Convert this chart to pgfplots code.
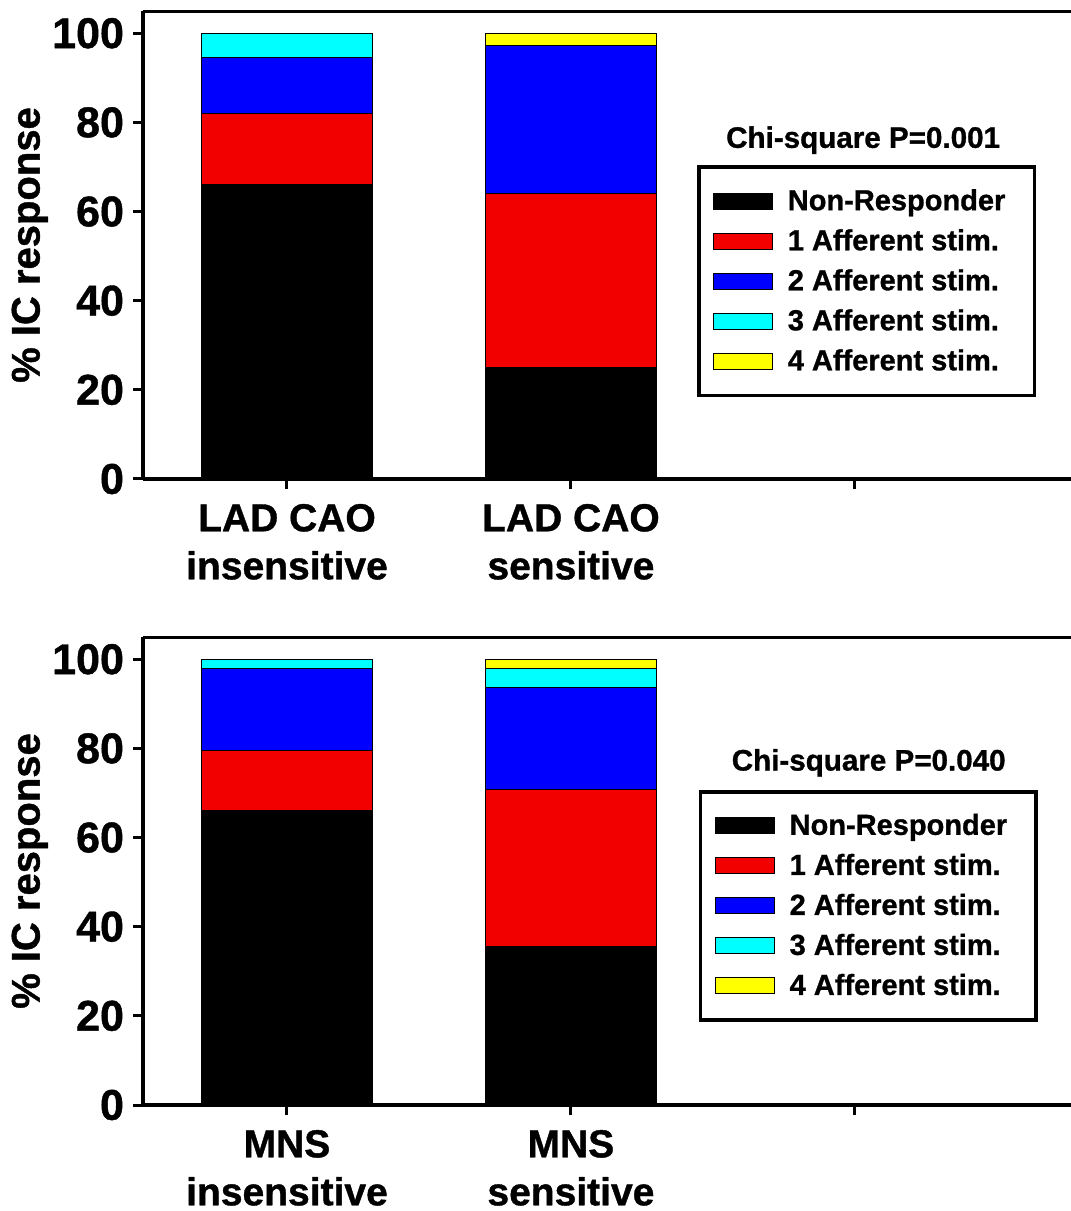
\documentclass[border=0pt]{standalone}
\usepackage{fontspec}
\setmainfont{Liberation Sans}[BoldFeatures={FakeBold=1}]
\usepackage{pgfplots}
\pgfplotsset{compat=1.18}
\definecolor{cRed}{HTML}{F20000}
\definecolor{cBlue}{HTML}{0000FF}
\definecolor{cCyan}{HTML}{00FFFF}
\definecolor{cYellow}{HTML}{FFFF00}
\pgfplotsset{
  icpanel/.style={
    scale only axis,
    anchor=south west,
    width=464pt, height=234pt,
    ybar stacked, bar width=0.6,
    xmin=-0.507, xmax=2.761,
    ymin=0, ymax=105,
    axis x line*=bottom, axis y line*=left,
    x axis line style={-, line width=1.8pt},
    y axis line style={-, line width=1.8pt},
    xtick={0,1,2}, ytick={0,20,...,100},
    tick align=outside, major tick length=5pt,
    every tick/.style={black, line width=1.5pt},
    /pgf/number format/assume math mode=true,
    yticklabel style={font=\bfseries\fontsize{21.5}{24}\selectfont, xshift=-1pt},
    xticklabel style={font=\bfseries\fontsize{19.5}{24}\selectfont, align=center, yshift=-4pt},
    every axis y label/.style={at={(axis description cs:-0.122,0.5)}, anchor=center, rotate=90,
      font=\bfseries\fontsize{20}{24}\selectfont},
    ylabel={\% IC response},
    legend cell align=left,
    legend image code/.code={\draw[#1, draw=black, line width=0.5pt] (0pt,-4pt) rectangle (29.5pt,4pt);
      \path (35pt,0pt);},
    legend style={draw=black, line width=1.8pt, anchor=north west,
      font=\bfseries\fontsize{14.5}{16}\selectfont,
      inner xsep=7pt, inner ysep=9pt, row sep=4pt,
      nodes={inner sep=2pt}},
  },
  seg/.style={fill=#1, draw=black, line width=0.5pt},
}
\begin{document}
\begin{tikzpicture}
\path[use as bounding box] (0,0) rectangle (535.5pt,605.5pt);

% top panel: LAD CAO
\begin{axis}[icpanel, at={(71.5pt,366pt)},
  xticklabels={LAD CAO\\insensitive, LAD CAO\\sensitive, {}},
  legend style={at={(rel axis cs:0.597,0.670)}}]
\addplot[seg=black]   coordinates {(0,66.0) (1,25.0)};
\addplot[seg=cRed]    coordinates {(0,16.0) (1,39.0)};
\addplot[seg=cBlue]   coordinates {(0,12.6) (1,33.3)};
\addplot[seg=cCyan]   coordinates {(0,5.4)  (1,0)};
\addplot[seg=cYellow] coordinates {(0,0)    (1,2.7)};
\legend{Non-Responder\hspace*{5.5pt}, 1 Afferent stim., 2 Afferent stim., 3 Afferent stim., 4 Afferent stim.}
\draw[line width=1.8pt] (rel axis cs:0,1) -- (rel axis cs:1,1);
\node[font=\bfseries\fontsize{14.8}{16}\selectfont] at (rel axis cs:0.776,0.724) {Chi-square P=0.001};
\end{axis}

% bottom panel: MNS
\begin{axis}[icpanel, at={(71.5pt,53pt)},
  xticklabels={MNS\\insensitive, MNS\\sensitive, {}},
  legend style={at={(rel axis cs:0.599,0.673)}}]
\addplot[seg=black]   coordinates {(0,66.0) (1,35.5)};
\addplot[seg=cRed]    coordinates {(0,13.6) (1,35.3)};
\addplot[seg=cBlue]   coordinates {(0,18.4) (1,22.9)};
\addplot[seg=cCyan]   coordinates {(0,2.0)  (1,4.3)};
\addplot[seg=cYellow] coordinates {(0,0)    (1,2.0)};
\legend{Non-Responder\hspace*{5.5pt}, 1 Afferent stim., 2 Afferent stim., 3 Afferent stim., 4 Afferent stim.}
\draw[line width=1.8pt] (rel axis cs:0,1) -- (rel axis cs:1,1);
\node[font=\bfseries\fontsize{14.8}{16}\selectfont] at (rel axis cs:0.782,0.731) {Chi-square P=0.040};
\end{axis}
\end{tikzpicture}
\end{document}
